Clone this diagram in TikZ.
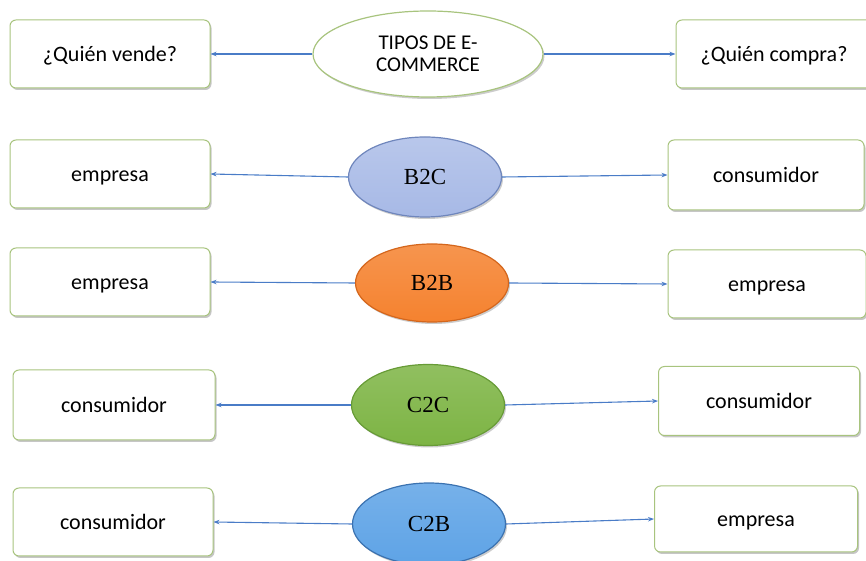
\documentclass[tikz,border=0pt]{standalone}
\usepackage{fontspec}
\setmainfont{Carlito}
\newfontfamily\serifb{Liberation Serif}
\usetikzlibrary{shapes.geometric,shadows,arrows.meta}
\definecolor{boxedge}{HTML}{A8C47E}
\definecolor{arrowc}{HTML}{4A7CC7}
\definecolor{btwoc}{HTML}{A7B9E6}
\definecolor{btwocE}{HTML}{6F86BC}
\definecolor{bb}{HTML}{F5822F}
\definecolor{bbE}{HTML}{D4661C}
\definecolor{cc}{HTML}{7DB444}
\definecolor{ccE}{HTML}{679B36}
\definecolor{cb}{HTML}{5EA3E6}
\definecolor{cbE}{HTML}{3B72B0}
\tikzset{
  sbox/.style={draw=boxedge, line width=1pt, fill=white, rounded corners=6pt,
    minimum width=200pt, minimum height=68pt, inner sep=0pt,
    text height=20pt, text depth=4pt,
    font=\fontsize{22}{26}\selectfont,
    drop shadow={shadow xshift=1.5pt, shadow yshift=-2pt, opacity=0.45, fill=gray}},
  oval/.style={ellipse, line width=1.2pt, inner sep=0pt,
    minimum width=153pt, minimum height=80pt,
    font=\serifb\fontsize{23}{26}\selectfont,
    drop shadow={shadow xshift=1.5pt, shadow yshift=-2pt, opacity=0.4, fill=gray}},
  conn/.style={draw=arrowc, line width=1.1pt, -{Stealth[length=6pt,width=4.5pt]}}
}
\begin{document}
\begin{tikzpicture}[x=1pt,y=1pt]
\useasboundingbox (0,0) rectangle (866,561);
% row 1
\node[sbox] (qv) at (110,507) {¿Quién vende?};
\node[oval, draw=boxedge, fill=white, minimum width=230pt, minimum height=86pt,
  font=\fontsize{21}{22}\selectfont, align=center] (tipos) at (428,507) {TIPOS DE E-\\COMMERCE};
\node[sbox, minimum width=196pt] (qc) at (774,507) {¿Quién compra?};
% row 2
\node[sbox] (l2) at (110,387) {empresa};
\node[oval, draw=btwocE, top color=btwoc!80!white, bottom color=btwoc] (b2c) at (425,384) {B2C};
\node[sbox, minimum width=196pt, minimum height=70pt] (r2) at (766,386) {consumidor};
% row 3
\node[sbox] (l3) at (110,279) {empresa};
\node[oval, draw=bbE, top color=bb!85!white, bottom color=bb, minimum height=78pt] (b2b) at (432,278) {B2B};
\node[sbox, minimum width=198pt] (r3) at (767,277) {empresa};
% row 4
\node[sbox, minimum width=202pt, minimum height=70pt] (l4) at (114,156) {consumidor};
\node[oval, draw=ccE, top color=cc!85!white, bottom color=cc, minimum height=81pt] (c2c) at (428,156) {C2C};
\node[sbox, minimum width=201pt, minimum height=69pt] (r4) at (759,160) {consumidor};
% row 5
\node[sbox] (l5) at (113,39) {consumidor};
\node[oval, draw=cbE, top color=cb!85!white, bottom color=cb, minimum height=82pt] (c2b) at (429,37) {C2B};
\node[sbox, minimum width=203pt, minimum height=66pt] (r5) at (756,42) {empresa};
% connectors
\draw[conn] (tipos.west) -- (qv.east);
\draw[conn] (tipos.east) -- (qc.west);
\draw[conn] (b2c.west) -- (l2.east);
\draw[conn] (b2c.east) -- (r2.west);
\draw[conn] (b2b.west) -- (l3.east);
\draw[conn] (b2b.east) -- (r3.west);
\draw[conn] (c2c.west) -- (l4.east);
\draw[conn] (c2c.east) -- (r4.west);
\draw[conn] (c2b.west) -- (l5.east);
\draw[conn] (c2b.east) -- (r5.west);
\end{tikzpicture}
\end{document}
